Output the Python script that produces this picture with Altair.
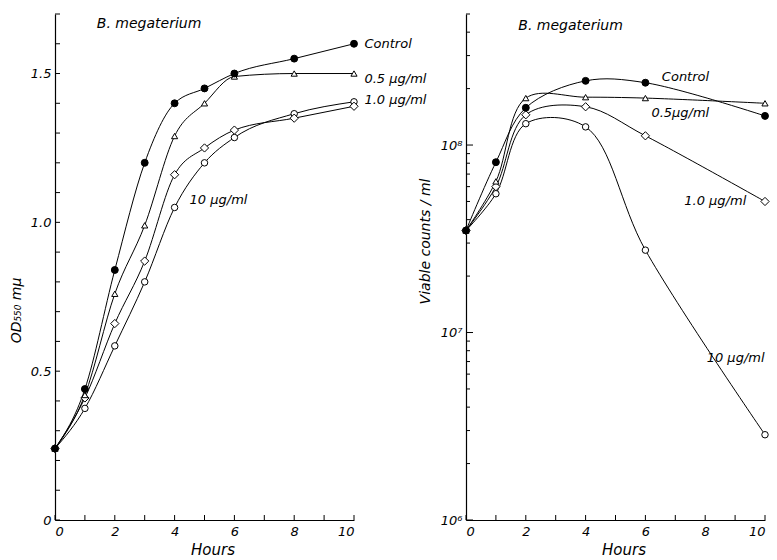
import altair as alt
import pandas as pd

# ---- Optical density at 550 mμ (left panel) ----
od_hours = [0, 1, 2, 3, 4, 5, 6, 8, 10]
od_control = [0.24, 0.44, 0.84, 1.20, 1.40, 1.45, 1.50, 1.55, 1.60]
od_05 = [0.24, 0.42, 0.76, 0.99, 1.29, 1.40, 1.49, 1.50, 1.50]
od_10 = [0.24, 0.41, 0.66, 0.87, 1.16, 1.25, 1.31, 1.35, 1.39]
od_100 = [0.24, 0.375, 0.585, 0.80, 1.05, 1.20, 1.285, 1.365, 1.405]

# ---- Viable counts per ml (right panel) ----
vc_hours = [0, 1, 2, 4, 6, 10]
vc_control = [3.5e7, 8.1e7, 1.58e8, 2.2e8, 2.15e8, 1.43e8]
vc_05 = [3.5e7, 6.4e7, 1.78e8, 1.8e8, 1.78e8, 1.67e8]
vc_10 = [3.5e7, 6.0e7, 1.45e8, 1.6e8, 1.12e8, 5.0e7]
vc_100 = [3.5e7, 5.5e7, 1.3e8, 1.25e8, 2.75e7, 2.85e6]

series = ["Control", "0.5 μg/ml", "1.0 μg/ml", "10 μg/ml"]
shapes = ["circle", "triangle-up", "diamond", "circle"]
fills = ["black", "white", "white", "white"]
sizes = [48, 38, 68, 42]

# Curve labels: text, hour, value
od_labels = ["B. megaterium", "Control", "0.5 μg/ml", "1.0 μg/ml", "10 μg/ml"]
od_label_x = [1.4, 10.35, 10.35, 10.35, 4.5]
od_label_y = [1.665, 1.60, 1.48, 1.41, 1.075]

vc_labels = ["B. megaterium", "Control", "0.5μg/ml", "1.0 μg/ml", "10 μg/ml"]
vc_label_x = [1.75, 6.55, 6.2, 7.3, 8.05]
vc_label_y = [4.3e8, 2.3e8, 1.48e8, 5.0e7, 7.3e6]
title_size = [14, 13, 13, 13, 13]

# Axis tick positions
hour_ticks = list(range(0, 11))
hour_labels = [0, 2, 4, 6, 8, 10]
od_ticks = [round(0.1 * i, 1) for i in range(0, 18)]
od_labels_vals = [0, 0.5, 1.0, 1.5]
vc_major = [1e6, 1e7, 1e8]
vc_minor = [k * 10 ** e for e in (6, 7) for k in range(2, 10)] + [2e8, 3e8, 4e8, 5e8]

W, H = 299, 506
FONT = "DejaVu Sans"


def long_table(hours, columns):
    # control rows go last so its filled dot sits on top at the shared start point
    rows = []
    for name, vals in reversed(list(zip(series, columns))):
        for h, v in zip(hours, vals):
            rows.append({"hours": h, "value": v, "series": name})
    return pd.DataFrame(rows)


def panel(df, y_scale, y_axis, interp, lab_text, lab_x, lab_y,
          y_minor, y_major, major_len, minor_len):
    x_scale = alt.Scale(domain=[0, 10], nice=False)
    x_enc = alt.X(
        "hours:Q", scale=x_scale,
        axis=alt.Axis(values=hour_labels, title="Hours", titleX=W / 2 + 8,
                      titleY=29, titleBaseline="middle"),
    )
    lines = alt.Chart(df).mark_line(
        interpolate=interp, color="black", strokeWidth=1
    ).encode(x=x_enc, y=alt.Y("value:Q", scale=y_scale, axis=y_axis),
             detail="series:N")

    points = alt.Chart(df).mark_point(
        filled=True, stroke="black", strokeWidth=1, opacity=1
    ).encode(
        x=alt.X("hours:Q", scale=x_scale),
        y=alt.Y("value:Q", scale=y_scale),
        shape=alt.Shape("series:N", scale=alt.Scale(domain=series, range=shapes), legend=None),
        fill=alt.Fill("series:N", scale=alt.Scale(domain=series, range=fills), legend=None),
        size=alt.Size("series:N", scale=alt.Scale(type="ordinal", domain=series, range=sizes),
                      legend=None),
    )

    labels = alt.Chart(pd.DataFrame({"t": lab_text, "hours": lab_x, "value": lab_y,
                                     "fs": title_size})).mark_text(
        align="left", baseline="middle", font=FONT, fontStyle="italic", color="black"
    ).encode(x=alt.X("hours:Q", scale=x_scale), y=alt.Y("value:Q", scale=y_scale), text="t:N",
             size=alt.Size("fs:Q", scale=None))

    # inward-pointing tick marks along both axes
    xt = alt.Chart(pd.DataFrame({"hours": hour_ticks})).mark_rule(color="black", strokeWidth=1).encode(
        x=alt.X("hours:Q", scale=x_scale), y=alt.value(H), y2=alt.value(H - 5))
    yt_minor = alt.Chart(pd.DataFrame({"value": y_minor})).mark_rule(color="black", strokeWidth=1).encode(
        y=alt.Y("value:Q", scale=y_scale), x=alt.value(0), x2=alt.value(minor_len))
    layers = [lines, points, labels, xt, yt_minor]
    if y_major:
        yt_major = alt.Chart(pd.DataFrame({"value": y_major})).mark_rule(color="black", strokeWidth=1).encode(
            y=alt.Y("value:Q", scale=y_scale), x=alt.value(0), x2=alt.value(major_len))
        layers.append(yt_major)
    return alt.layer(*layers).properties(width=W, height=H)


od_df = long_table(od_hours, [od_control, od_05, od_10, od_100])
vc_df = long_table(vc_hours, [vc_control, vc_05, vc_10, vc_100])

od_axis = alt.Axis(
    values=od_labels_vals,
    labelExpr="datum.value == 0 ? '0' : format(datum.value, '.1f')",
    title="OD₅₅₀ mμ", titleAngle=270, titleX=-39, titleY=296,
    titleAlign="center", titleBaseline="middle",
)
vc_axis = alt.Axis(
    values=vc_major,
    labelExpr="datum.value == 1e6 ? '10⁶' : datum.value == 1e7 ? '10⁷' : '10⁸'",
    title="Viable counts / ml", titleAngle=270, titleX=-41, titleY=227,
    titleAlign="center", titleBaseline="middle",
)

left = panel(od_df, alt.Scale(domain=[0, 1.70], nice=False, zero=False), od_axis, "monotone",
             od_labels, od_label_x, od_label_y, od_ticks, [], 5, 5)
right = panel(vc_df, alt.Scale(type="log", domain=[1e6, 5e8], nice=False), vc_axis, "catmull-rom",
              vc_labels, vc_label_x, vc_label_y, vc_minor, vc_major, 7, 4)

chart = alt.hconcat(left, right, spacing=112, bounds="flush").properties(
    padding={"left": 9, "top": 13, "right": 0, "bottom": 0}
).configure_view(stroke=None).configure_axis(
    grid=False, tickSize=0, domainColor="black", domainWidth=1.2,
    labelFont=FONT, labelFontStyle="italic", labelFontSize=13, labelColor="black",
    labelPadding=5,
    titleFont=FONT, titleFontStyle="italic", titleFontSize=15, titleFontWeight="normal",
    titleColor="black",
).configure_axisY(labelPadding=4, titleFontSize=14)

chart.save("out.html", embed_options={"renderer": "svg", "actions": False})
